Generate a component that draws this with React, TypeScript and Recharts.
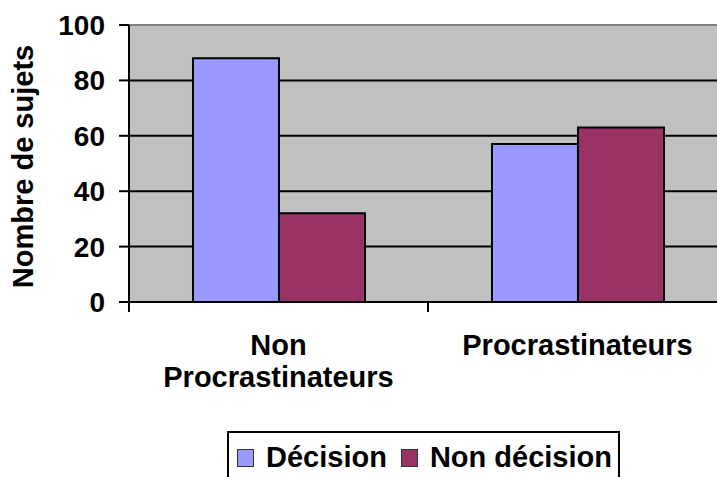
import React from 'react';
import {
  BarChart,
  Bar,
  XAxis,
  YAxis,
  CartesianGrid,
  ReferenceLine,
  Legend,
} from 'recharts';

// Groups of subjects on the category axis
const categories = ['Non Procrastinateurs', 'Procrastinateurs'];
// Number of subjects per group
const decision = [88, 57];
const nonDecision = [32, 63];
// Value-axis ticks
const yTicks = [0, 20, 40, 60, 80, 100];

const SERIES = [
  { key: 'decision', name: 'Décision', color: '#9999FF' },
  { key: 'nonDecision', name: 'Non décision', color: '#993366' },
];

const data = categories.map((name, i) => ({
  name,
  decision: decision[i],
  nonDecision: nonDecision[i],
}));

const FONT = '"Liberation Sans", Arial, sans-serif';
const TICK_LEN = 10;

// Category label, one word per line, plus tick marks on the band boundaries
const CategoryTick = (props: any) => {
  const { x, y, payload, width, visibleTicksCount, index } = props;
  const band = width / visibleTicksCount;
  const lines = String(payload.value).split(' ');
  const edges = [x - band / 2];
  if (index === visibleTicksCount - 1) edges.push(x + band / 2);
  return (
    <g>
      {edges.map((ex, i) => (
        <line key={i} x1={ex} x2={ex} y1={y - TICK_LEN} y2={y} stroke="#000" strokeWidth={2} />
      ))}
      <text
        x={x}
        y={y}
        textAnchor="middle"
        fontFamily={FONT}
        fontWeight="bold"
        fontSize={29}
        fill="#000"
      >
        {lines.map((l, i) => (
          <tspan key={i} x={x} dy={i === 0 ? 43 : 32}>
            {l}
          </tspan>
        ))}
      </text>
    </g>
  );
};

const AxisTitle = (props: any) => {
  const vb = props.viewBox;
  const cx = 33;
  const cy = vb.y + vb.height / 2 + 3;
  return (
    <text
      x={cx}
      y={cy}
      transform={`rotate(-90, ${cx}, ${cy})`}
      textAnchor="middle"
      fontFamily={FONT}
      fontWeight="bold"
      fontSize={29}
      fill="#000"
    >
      Nombre de sujets
    </text>
  );
};

const LegendBox = (props: any) => {
  const items = props.payload || [];
  return (
    <div
      style={{
        border: '2px solid #000',
        background: '#fff',
        display: 'flex',
        alignItems: 'center',
        padding: '8px 6px 20px 8px',
        fontFamily: FONT,
        fontWeight: 'bold',
        fontSize: 29,
        color: '#000',
        whiteSpace: 'nowrap',
      }}
    >
      {items.map((it: any, i: number) => (
        <div
          key={i}
          style={{ display: 'flex', alignItems: 'center', marginRight: i === 0 ? 14 : 0 }}
        >
          <span
            style={{
              display: 'inline-block',
              width: 15,
              height: 16,
              background: it.color,
              border: '1.5px solid #333',
              marginRight: 12,
            }}
          />
          <span>{it.value}</span>
        </div>
      ))}
    </div>
  );
};

export default function App() {
  return (
    <div
      style={{
        position: 'fixed',
        top: 0,
        left: 0,
        width: 717,
        height: 477,
        overflow: 'hidden',
        background: '#fff',
      }}
    >
      <BarChart
        width={740}
        height={477}
        data={data}
        margin={{ top: 25, right: 13, left: 0, bottom: 0 }}
        barGap={0}
        barCategoryGap="21.4%"
      >
        <CartesianGrid
          horizontal
          vertical={false}
          fill="#C0C0C0"
          fillOpacity={1}
          stroke="#000"
          strokeWidth={2}
        />
        <XAxis
          dataKey="name"
          height={175}
          axisLine={{ stroke: '#000', strokeWidth: 2 }}
          tickLine={{ stroke: 'none' }}
          tickSize={TICK_LEN}
          tickMargin={0}
          tick={<CategoryTick />}
          interval={0}
        />
        <YAxis
          width={129}
          domain={[0, 100]}
          ticks={yTicks}
          tickSize={10}
          tickMargin={14}
          axisLine={{ stroke: '#000', strokeWidth: 2 }}
          tickLine={{ stroke: '#000', strokeWidth: 2 }}
          tick={{ fontFamily: FONT, fontWeight: 'bold', fontSize: 28, fill: '#000' }}
          label={<AxisTitle />}
        />
        <ReferenceLine y={100} stroke="#808080" strokeWidth={2} />
        {SERIES.map((s) => (
          <Bar
            key={s.key}
            dataKey={s.key}
            name={s.name}
            fill={s.color}
            stroke="#000"
            strokeWidth={2}
            isAnimationActive={false}
          />
        ))}
        <Legend
          layout="horizontal"
          verticalAlign="middle"
          align="center"
          content={<LegendBox />}
          wrapperStyle={{ top: 431, left: 227, width: 'auto', height: 'auto' }}
        />
      </BarChart>
    </div>
  );
}
